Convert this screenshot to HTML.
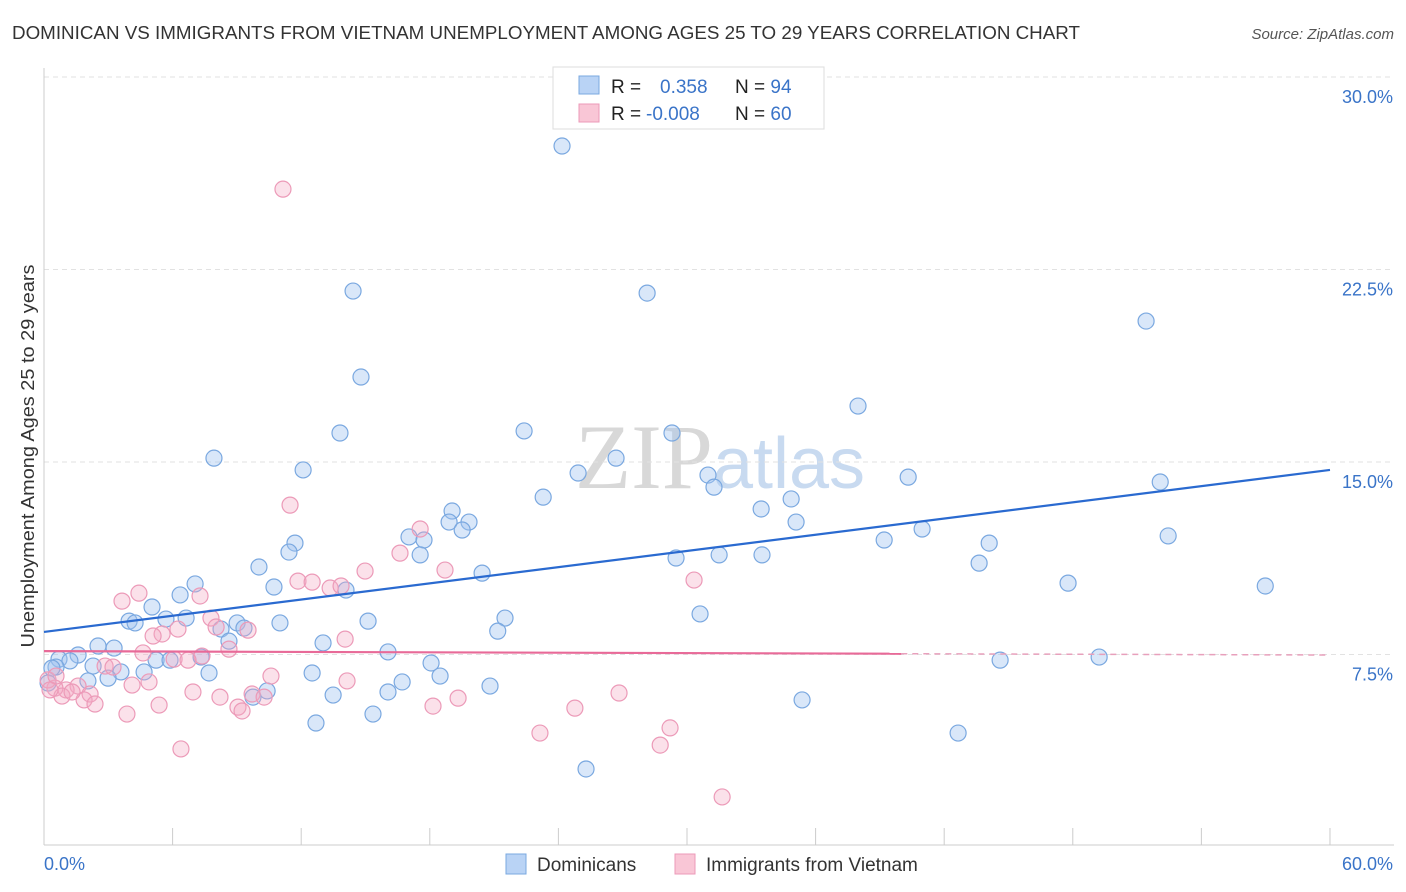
<!DOCTYPE html>
<html><head><meta charset="utf-8">
<style>
body{margin:0;background:#fff;font-family:"Liberation Sans",sans-serif;}
svg{display:block}
</style></head>
<body>
<svg id="c" width="1406" height="892" viewBox="0 0 1406 892" xmlns="http://www.w3.org/2000/svg">
<text x="12" y="39" font-size="18" fill="#333" textLength="1068" lengthAdjust="spacingAndGlyphs">DOMINICAN VS IMMIGRANTS FROM VIETNAM UNEMPLOYMENT AMONG AGES 25 TO 29 YEARS CORRELATION CHART</text>
<text x="1394" y="39" font-size="15" fill="#555" font-style="italic" text-anchor="end">Source: ZipAtlas.com</text>
<text x="720" y="488" font-size="92" fill="#d8d8d8" text-anchor="middle" font-family="Liberation Serif">ZIP<tspan fill="#c8daf0" font-family="Liberation Sans" font-size="72">atlas</tspan></text>
<g id="grid"></g>
<g id="axes"></g>
<g id="pts"></g>
<g id="trend"></g>
<text transform="translate(34,456) rotate(-90)" font-size="18" fill="#333" text-anchor="middle" textLength="383" lengthAdjust="spacingAndGlyphs">Unemployment Among Ages 25 to 29 years</text>
<g>
<rect x="553" y="67" width="271" height="62" fill="#fff" stroke="#ddd"/>
<rect x="579" y="76" width="20" height="18" fill="#b9d3f5" stroke="#7aa8e0"/>
<rect x="579" y="104" width="20" height="18" fill="#f9c6d6" stroke="#ec9ab8"/>
<text x="611" y="93" font-size="19" fill="#222">R = <tspan fill="#3a74c8" x="660">0.358</tspan><tspan x="735" fill="#222">N = </tspan><tspan fill="#3a74c8">94</tspan></text>
<text x="611" y="120" font-size="19" fill="#222">R = <tspan fill="#3a74c8" x="646">-0.008</tspan><tspan x="735" fill="#222">N = </tspan><tspan fill="#3a74c8">60</tspan></text>
</g>
<g>
<rect x="506" y="854" width="20" height="20" fill="#b9d3f5" stroke="#7aa8e0"/>
<text x="537" y="871" font-size="19" fill="#333">Dominicans</text>
<rect x="675" y="854" width="20" height="20" fill="#f9c6d6" stroke="#ec9ab8"/>
<text x="706" y="871" font-size="19" fill="#333">Immigrants from Vietnam</text>
</g>
</svg>
<script>
const xTicksLabels=["0.0%","60.0%"];
const yTicks=[7.5,15,22.5,30];
const yTickLabels=["7.5%","15.0%","22.5%","30.0%"];
const blueX=[24.17,14.42,28.14,51.42,14.79,37.98,13.81,22.40,29.30,7.93,26.69,12.09,24.92,30.98,40.32,31.26,52.08,23.29,34.86,33.46,19.04,19.83,18.90,35.09,19.51,40.97,17.03,17.73,52.45,11.71,39.20,44.10,11.43,17.55,29.49,31.50,33.50,43.63,10.03,20.44,7.05,10.73,47.78,56.98,14.09,6.35,5.04,30.61,21.51,6.63,5.69,3.97,4.25,15.12,11.01,9.01,9.33,8.26,21.17,8.63,13.02,2.52,3.27,16.05,1.59,0.70,1.21,5.23,5.88,7.33,44.61,49.23,18.06,2.29,0.56,7.70,3.59,4.67,12.51,18.48,2.99,2.05,16.71,20.81,16.05,10.41,9.75,13.49,35.37,12.69,15.35,42.65,25.29,0.37,0.19];
const blueY=[27.31,21.66,21.58,20.49,18.31,17.18,16.13,16.21,16.13,15.15,15.15,14.69,14.57,14.49,14.41,14.02,14.22,13.63,13.56,13.17,13.09,12.66,12.66,12.66,12.35,12.39,12.08,11.96,12.12,11.84,11.96,11.84,11.49,11.38,11.26,11.38,11.38,11.06,10.91,10.67,10.25,10.13,10.28,10.17,10.01,9.82,9.35,9.08,8.92,8.92,8.88,8.80,8.73,8.80,8.73,8.73,8.53,8.49,8.41,8.02,7.95,7.83,7.75,7.60,7.48,7.32,7.25,7.28,7.28,7.40,7.28,7.40,7.17,7.05,7.01,6.78,6.82,6.82,6.78,6.66,6.58,6.47,6.43,6.27,6.04,6.08,5.84,5.92,5.73,4.83,5.18,4.44,3.04,6.97,6.39];
const pinkX=[11.15,11.48,17.55,16.61,14.98,18.71,11.85,12.51,13.35,13.86,30.33,4.43,7.28,3.64,7.79,9.52,8.03,6.25,5.51,5.09,14.05,8.63,4.62,6.07,7.37,6.72,2.85,3.22,10.59,4.90,14.14,4.11,1.59,1.03,0.51,0.19,2.15,0.84,6.95,9.71,8.21,26.83,1.87,10.27,19.32,18.15,2.38,5.37,9.05,9.24,24.77,3.87,29.21,23.14,28.75,6.39,31.64,0.56,0.28,1.31];
const pinkY=[25.63,13.32,12.39,11.45,10.75,10.79,10.36,10.32,10.09,10.17,10.40,9.89,9.78,9.58,8.92,8.45,8.57,8.49,8.30,8.22,8.10,7.71,7.56,7.32,7.44,7.28,7.05,7.01,6.66,6.43,6.47,6.31,6.27,6.12,6.19,6.51,5.96,5.88,6.04,5.96,5.84,6.00,5.73,5.84,5.80,5.49,5.57,5.53,5.45,5.30,5.41,5.18,4.64,4.44,3.97,3.82,1.95,6.66,6.12,6.04];
const blueTrend=[8.38,14.69];
const pinkTrend=[7.63,7.48];
const NS="http://www.w3.org/2000/svg";
const X=v=>44+v*21.433, Y=v=>847-v*25.667;
function mk(tag,attrs,parent){const e=document.createElementNS(NS,tag);for(const k in attrs)e.setAttribute(k,attrs[k]);parent.appendChild(e);return e;}
const grid=document.getElementById('grid'),axes=document.getElementById('axes'),pts=document.getElementById('pts'),tr=document.getElementById('trend');
yTicks.forEach((t,i)=>{
 const l=mk('line',{x1:44,x2:1394,y1:Y(t),y2:Y(t),stroke:'#e2e2e2','stroke-dasharray':'5,4'},grid);
 
 
 const tx=mk('text',{x:1393,y:Y(t)+26,'font-size':18,fill:'#3a74c8','text-anchor':'end'},axes);
 tx.textContent=yTickLabels[i];
 
 
});
const ax=mk('line',{x1:44,x2:44,y1:68,y2:845,stroke:'#ccc'},axes);


const bx=mk('line',{x1:44,x2:1394,y1:845,y2:845,stroke:'#ccc'},axes);


for(let i=0;i<=10;i++){
 const t=mk('line',{x1:X(i*6),x2:X(i*6),y1:828,y2:845,stroke:'#ccc'},axes);
 
 
}
const x0=mk('text',{x:44,y:870,'font-size':18,fill:'#3a74c8'},axes);x0.textContent=xTicksLabels[0];


const x1=mk('text',{x:1393,y:870,'font-size':18,fill:'#3a74c8','text-anchor':'end'},axes);x1.textContent=xTicksLabels[1];


blueX.forEach((v,i)=>{
 const c=mk('circle',{cx:X(v),cy:Y(blueY[i]),r:8,fill:'rgba(160,196,240,0.4)',stroke:'#7aa8e0','stroke-width':1.2},pts);
 
 
});
pinkX.forEach((v,i)=>{
 const c=mk('circle',{cx:X(v),cy:Y(pinkY[i]),r:8,fill:'rgba(244,170,196,0.35)',stroke:'#ec9ab8','stroke-width':1.2},pts);
 
 
});
const bl=mk('line',{x1:X(0),y1:Y(blueTrend[0]),x2:X(60),y2:Y(blueTrend[1]),stroke:'#2a6ad0','stroke-width':2.2},tr);


const pv=x=>pinkTrend[0]+(pinkTrend[1]-pinkTrend[0])*x/60;
const pl=mk('line',{x1:X(0),y1:Y(pv(0)),x2:X(40),y2:Y(pv(40)),stroke:'#e86a98','stroke-width':2.2},tr);


const pd=mk('line',{x1:X(40),y1:Y(pv(40)),x2:X(60),y2:Y(pv(60)),stroke:'#e8a0bc','stroke-width':1.5,'stroke-dasharray':'6,5'},tr);


</script>
</body></html>
